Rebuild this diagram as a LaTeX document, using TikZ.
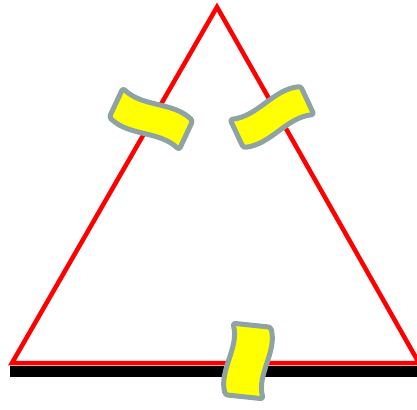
\documentclass[tikz,border=0pt]{standalone}
\usepackage{xcolor}
\usepackage{tikz}
\usetikzlibrary{calc}
\definecolor{sidered}{HTML}{FF0000}
\definecolor{tapeyellow}{HTML}{FFFF00}
\definecolor{tapegray}{HTML}{8FA3A5}

\tikzset{
    side/.style={draw=sidered, line width=4.5pt, line join=miter},
    baseline bar/.style={draw=black, line width=11pt},
    tape/.style={fill=tapeyellow, draw=tapegray, line width=5pt, line join=round, rounded corners=2.5pt}
}

% wavy strip of tape: centre x, centre y, angle, length, thickness, wave
\newcommand{\tapestrip}[6]{%
    \begin{scope}[shift={(#1,#2)}, rotate=#3]
        \draw[tape] ({-#4/2},{-#5/2}) .. controls ({-#4/6},{-#5/2+(#6)}) and ({#4/6},{-#5/2-(#6)}) .. ({#4/2},{-#5/2})
            -- ({#4/2},{#5/2}) .. controls ({#4/6},{#5/2-(#6)}) and ({-#4/6},{#5/2+(#6)}) .. ({-#4/2},{#5/2}) -- cycle;
    \end{scope}}

\begin{document}
\begin{tikzpicture}[x=1pt, y=-1pt]
    \useasboundingbox (0,0) rectangle (417,409);
    \clip (0,0) rectangle (417,409);

    % Triangle
    \coordinate (apex) at (217,7);
    \coordinate (left) at (12,363);
    \coordinate (right) at (419,363);
    \draw[side] (apex) -- (left) -- (right) -- cycle;

    % Bar under the base
    \draw[baseline bar] (10,371.5) -- (417,371.5);

    % Tapes
    \tapestrip{151}{119}{-25}{77}{32}{9}
    \tapestrip{272}{117}{25}{78}{31}{9}
    \tapestrip{248}{361}{-96}{72}{38}{-9}
\end{tikzpicture}
\end{document}
